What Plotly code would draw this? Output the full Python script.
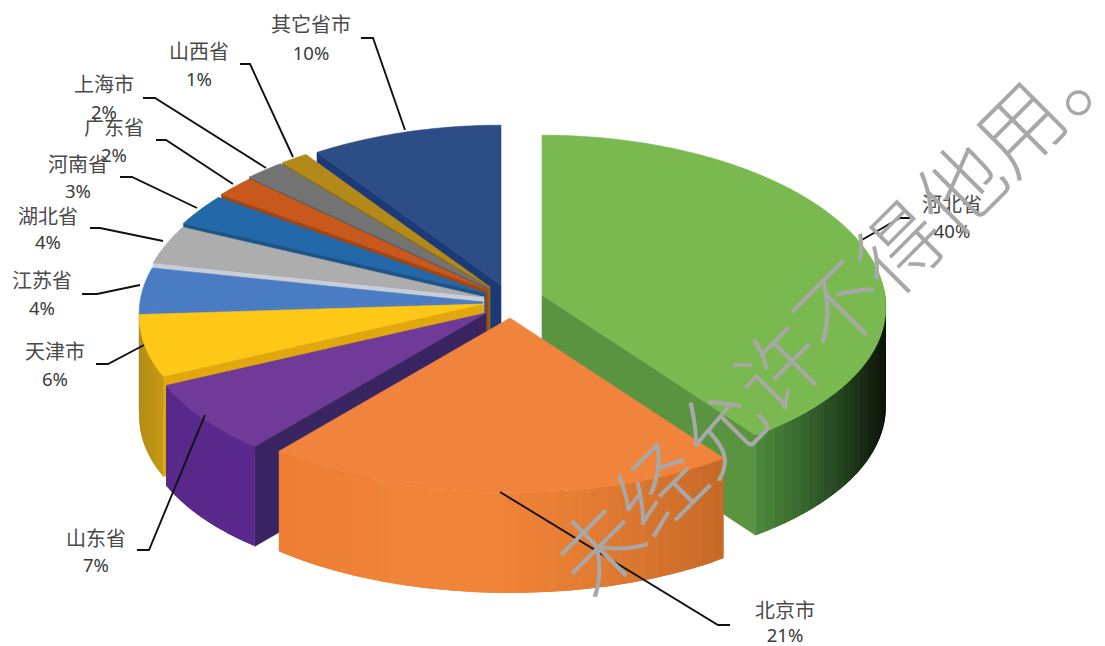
import numpy as np
import plotly.graph_objects as go

# ---- data (clockwise from 12 o'clock) ----
categories = ["河北省", "北京市", "山东省", "天津市", "江苏省", "湖北省", "河南省", "广东省", "上海市", "山西省", "其它省市"]
shares = [40, 21, 7, 6, 4.3, 3.7, 3, 2, 2, 1.4, 9.6]
share_labels = ["40%", "21%", "7%", "6%", "4%", "4%", "3%", "2%", "2%", "1%", "10%"]
watermark = "未经允许不得他用。"

# ---- styles ----
top_colors = ["#79B94F", "#F0843D", "#6F3A98", "#FFC716", "#4A7CC4", "#ADADAD", "#2368A8", "#C8581C", "#737373", "#B38A1A", "#2C4D86"]
cut_colors = ["#5A9440", None, "#3A2563", "#E0A80C", "#4A7CC4", "#C9CED6", "#1B5486", "#9E4616", "#5C5C5C", "#8F6E15", "#1D3A78"]
# left-to-right colour ramps of the visible rim
wall_stops = [
    ["#4F8B3B", "#3A6B30", "#24431F", "#0D140A"],
    ["#EE7E34", "#F08438", "#F08438", "#E07A32", "#C66A28"],
    ["#58288A", "#5C2A8E"],
    ["#B58C14", "#C69A16"],
    ["#4A7CC4", "#4A7CC4"],
    ["#8A8A8A", "#8A8A8A"],
    ["#1B5486", "#1B5486"],
    ["#9E4616", "#9E4616"],
    ["#5C5C5C", "#5C5C5C"],
    ["#8F6E15", "#8F6E15"],
    ["#1D3A78", "#1D3A78"],
]
apex = [(542, 295), (510, 318), (486, 313), (483, 304), (483, 302), (484, 297), (485, 293), (488, 290), (488, 288), (490, 287), (501, 285)]
paint_order = [10, 9, 8, 7, 6, 5, 4, 3, 2, 0, 1]
RX, RY, PX, PY, DEPTH = 343, 167, 0.07, 0.045, 100

# label layout: (x, name y, pct y), leader polyline
label_pos = [(952, 207, 233), (785, 613, 637), (96, 541, 567), (55, 354, 381), (42, 283, 310), (48, 219, 244),
             (78, 167, 193), (114, 130, 157), (104, 87, 114), (199, 54, 81), (311, 27, 55)]
leaders = [
    [(911, 218), (900, 218), (860, 241)],
    [(730, 625), (718, 625), (500, 492)],
    [(137, 550), (149, 550), (205, 415)],
    [(96, 364), (108, 364), (144, 345)],
    [(82, 294), (97, 294), (140, 285)],
    [(90, 228), (100, 228), (163, 241)],
    [(120, 177), (132, 177), (197, 208)],
    [(156, 140), (166, 140), (233, 184)],
    [(143, 98), (155, 98), (266, 168)],
    [(240, 64), (250, 64), (293, 157)],
    [(361, 38), (373, 38), (405, 130)],
]


def project(i, deg, depth=0.0):
    t = np.radians(deg)
    X, Y = np.sin(t), np.cos(t)
    return (apex[i][0] + RX * X / (1 + PX * Y),
            apex[i][1] - RY * Y / (1 + PY * Y) + depth)


def hex_rgb(c):
    return np.array([int(c[k:k + 2], 16) for k in (1, 3, 5)], float)


def ramp(stops, f):
    f = min(max(f, 0.0), 1.0)
    pos = f * (len(stops) - 1)
    k = min(int(pos), len(stops) - 2)
    a, b = hex_rgb(stops[k]), hex_rgb(stops[k + 1])
    r = a + (b - a) * (pos - k)
    return "rgb(%d,%d,%d)" % tuple(r)


def poly(fig, xs, ys, color, name=None, edge=0.6):
    fig.add_trace(go.Scatter(x=xs, y=ys, mode="lines", fill="toself", fillcolor=color,
                             line=dict(color=color, width=edge, simplify=False), showlegend=False,
                             hoverinfo="text" if name else "skip", text=name))


fig = go.Figure()
edges = np.concatenate([[0], np.cumsum(shares)]) / sum(shares) * 360

for i in paint_order:
    a0, a1 = edges[i], edges[i + 1]
    # radial cut face that looks at the viewer
    if cut_colors[i]:
        edge = a1 if a1 <= 180 else a0
        ox, oy = project(i, edge)
        ax_, ay_ = apex[i]
        poly(fig, [ax_, ox, ox, ax_, ax_], [ay_, oy, oy + DEPTH, ay_ + DEPTH, ay_], cut_colors[i])
    # outer rim, only the part facing the viewer
    lo, hi = max(a0, 88), min(a1, 268)
    if hi > lo:
        n = max(2, int((hi - lo) / 2.0))
        steps = np.linspace(lo, hi, n + 1)
        xs_all = [project(i, d)[0] for d in steps]
        xmin, xmax = min(xs_all), max(xs_all)
        # painted so that each strip laps over the next one: no seams
        for k in range(n):
            xa, ya = project(i, steps[k])
            xm = project(i, steps[k + 1])[0]
            col = ramp(wall_stops[i], (0.5 * (xa + xm) - xmin) / max(xmax - xmin, 1))
            mid = np.linspace(steps[k], steps[min(k + 2, n)], 5)
            pts = [project(i, d) for d in mid]
            px, py = zip(*pts)
            poly(fig, [*px, *px[::-1], px[0]], [*py, *[v + DEPTH for v in py[::-1]], py[0]], col, edge=0)
    # top face
    arc = np.linspace(a0, a1, max(6, int((a1 - a0) * 1.5)))
    px, py = zip(*[project(i, d) for d in arc])
    poly(fig, [apex[i][0], *px, apex[i][0]], [apex[i][1], *py, apex[i][1]], top_colors[i],
         name=f"{categories[i]} {share_labels[i]}")

# leader lines
for path in leaders:
    fig.add_trace(go.Scatter(x=[p[0] for p in path], y=[p[1] for p in path], mode="lines",
                             line=dict(color="#111111", width=1.9), showlegend=False, hoverinfo="skip"))

# data labels
fig.add_trace(go.Scatter(x=[p[0] for p in label_pos], y=[p[1] for p in label_pos], mode="text",
                         text=categories, textposition="middle center", showlegend=False, hoverinfo="skip",
                         textfont=dict(family="Noto Sans CJK SC", size=20, color="#4A4A4A")))
fig.add_trace(go.Scatter(x=[p[0] for p in label_pos], y=[p[2] for p in label_pos], mode="text",
                         text=share_labels, textposition="middle center", showlegend=False, hoverinfo="skip",
                         textfont=dict(family="Noto Sans", size=18.5, color="#3A3A3A")))

fig.update_layout(
    width=1105, height=646, margin=dict(l=0, r=0, t=0, b=0),
    paper_bgcolor="white", plot_bgcolor="white",
    xaxis=dict(range=[0, 1105], visible=False, fixedrange=True),
    yaxis=dict(range=[646, 0], visible=False, fixedrange=True),
    annotations=[dict(x=835, y=304, xref="x", yref="y", text=watermark, showarrow=False, textangle=-45,
                      font=dict(family="Noto Sans CJK SC", size=85, color="#A8A8A8", weight=300))],
)
fig.write_html("out.html", post_script="document.body.style.margin='0';", config={"displayModeBar": False})
